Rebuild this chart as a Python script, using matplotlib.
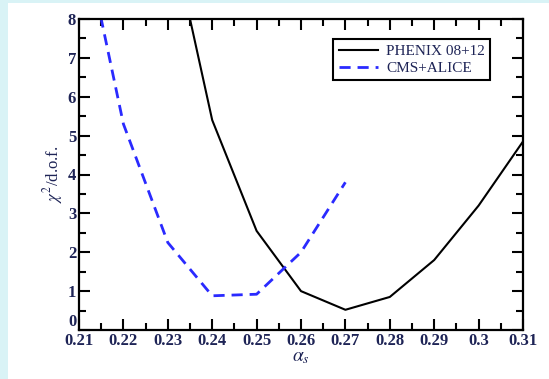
import numpy as np
import matplotlib
matplotlib.use('Agg')
import matplotlib.pyplot as plt
from matplotlib.patches import Rectangle
from matplotlib.ticker import MultipleLocator, FormatStrFormatter

# chi^2/dof scan vs alpha_s
alpha_phenix = [0.23, 0.24, 0.25, 0.26, 0.27, 0.28, 0.29, 0.30, 0.31]
chi2_phenix = [10.6, 5.4, 2.55, 1.0, 0.52, 0.85, 1.8, 3.2, 4.85]

alpha_cms = [0.21, 0.22, 0.23, 0.24, 0.25, 0.26, 0.27]
chi2_cms = [10.7, 5.3, 2.25, 0.88, 0.92, 2.0, 3.8]

labels = ['PHENIX 08+12', 'CMS+ALICE']


def run():
    plt.rcParams['font.family'] = 'Liberation Serif'
    plt.rcParams['mathtext.fontset'] = 'stix'
    fig = plt.figure(figsize=(5.49, 3.79), dpi=100)
    fig.patch.set_facecolor('white')
    # light cyan slide border on left and top
    cyan = '#d9f3f6'
    fig.patches.append(Rectangle((0, 0), 8 / 549, 1, transform=fig.transFigure,
                                 facecolor=cyan, edgecolor='none', zorder=0))
    fig.patches.append(Rectangle((0, 1 - 3 / 379), 1, 3 / 379, transform=fig.transFigure,
                                 facecolor=cyan, edgecolor='none', zorder=0))

    ax = fig.add_axes([79 / 549, 1 - 330 / 379, 444 / 549, 311 / 379])
    ax.plot(alpha_phenix, chi2_phenix, color='black', lw=1.5, label=labels[0])
    ax.plot(alpha_cms, chi2_cms, color='#2a2aff', lw=2, ls=(0, (4, 2.5)), label=labels[1])

    ax.set_xlim(0.21, 0.31)
    ax.set_ylim(0, 8)
    ax.xaxis.set_major_locator(MultipleLocator(0.01))
    ax.xaxis.set_minor_locator(MultipleLocator(0.005))
    ax.yaxis.set_major_locator(MultipleLocator(1))
    ax.yaxis.set_minor_locator(MultipleLocator(0.5))
    ax.xaxis.set_major_formatter(FormatStrFormatter('%g'))
    ax.tick_params(which='both', direction='in', top=True, right=True, width=1.5,
                   labelsize=12, labelcolor='#1e2456', pad=2)
    ax.tick_params(which='major', length=8)
    ax.tick_params(which='minor', length=5)
    for s in ax.spines.values():
        s.set_linewidth(1.6)

    fig.canvas.draw()
    for lab in ax.get_xticklabels() + ax.get_yticklabels():
        lab.set_fontweight('bold')
    # the y "0" sits above the "0.21", as in the original
    for tick in ax.yaxis.get_major_ticks():
        if abs(tick.get_loc()) < 1e-9:
            tick.label1.set_verticalalignment('bottom')

    ax.set_xlabel(r'$\alpha_s$', fontsize=14, labelpad=0, color='#1e2456')
    ax.set_ylabel(r'$\chi^2$/d.o.f.', fontsize=12, labelpad=2, color='#1e2456')

    leg = ax.legend(loc='upper right', bbox_to_anchor=(0.926, 0.935), fontsize=11,
                    fancybox=False, framealpha=1, edgecolor='black', handlelength=2.6,
                    labelspacing=0.2, borderpad=0.35, handletextpad=0.5, borderaxespad=0)
    leg.get_frame().set_linewidth(1.5)
    for t in leg.get_texts():
        t.set_color('#1e2456')

    plt.savefig('out.png', dpi=100)


if __name__ == '__main__':
    run()
